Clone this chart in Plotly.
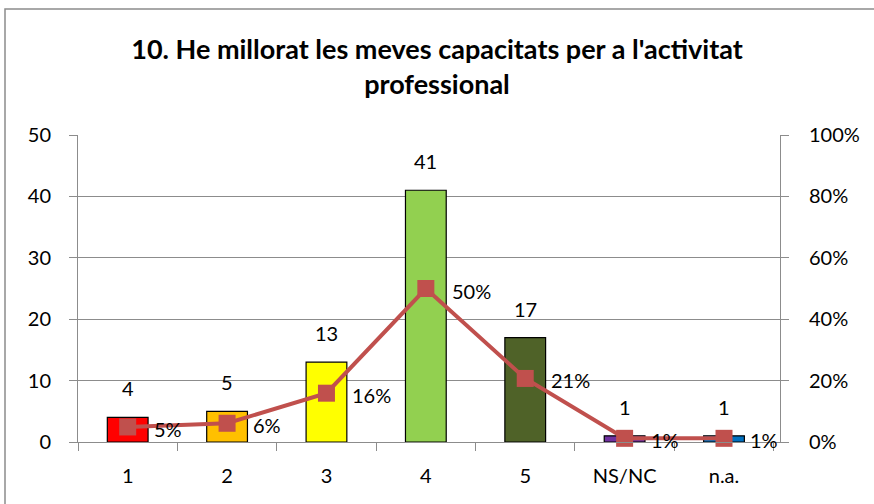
import plotly.graph_objects as go

categories = ["1", "2", "3", "4", "5", "NS/NC", "n.a."]
counts = [4, 5, 13, 41, 17, 1, 1]
percents = [0.049, 0.061, 0.159, 0.500, 0.207, 0.012, 0.012]
percent_labels = ["5%", "6%", "16%", "50%", "21%", "1%", "1%"]
bar_colors = ["#FF0000", "#FFC000", "#FFFF00", "#92D050", "#4F6228", "#7030A0", "#0070C0"]
title_text = "<b>10. He millorat les meves capacitats per a l'activitat<br>professional</b>"

FONT = "Lato, Liberation Sans, sans-serif"
GRID = "#8C8C8C"
FS = 20

W, H = 874, 504
L, T = 78, 135
R = W - 780
B = H - 442
pw, ph = W - L - R, H - T - B

fig = go.Figure()
fig.add_trace(go.Bar(
    x=categories, y=counts,
    marker=dict(color=bar_colors, line=dict(color="black", width=1.2)),
    showlegend=False, yaxis="y", hoverinfo="x+y",
))
fig.add_trace(go.Scatter(
    x=categories, y=percents, yaxis="y2", mode="lines+markers",
    line=dict(color="#C0504D", width=4),
    marker=dict(symbol="square", size=17, color="#C0504D"),
    cliponaxis=False, showlegend=False,
))

for i, v in enumerate(counts):
    fig.add_annotation(x=i, y=v, xref="x", yref="y", text=str(v), showarrow=False,
                       yshift=29, font=dict(size=FS, family=FONT, color="black"))
for i, (p, t) in enumerate(zip(percents, percent_labels)):
    fig.add_annotation(x=i, y=p, xref="x", yref="y2", text=t, showarrow=False,
                       xanchor="left", xshift=24, yshift=-2,
                       font=dict(size=FS, family=FONT, color="black"))

fig.update_layout(
    width=W, height=H,
    margin=dict(l=L, r=R, t=T, b=B, autoexpand=False),
    paper_bgcolor="white", plot_bgcolor="white",
    font=dict(family=FONT, size=FS, color="black"),
    title=dict(text=title_text, x=0.5, xanchor="center",
               y=1 - 59 / H, yanchor="middle",
               font=dict(size=27, family=FONT, color="black")),
    bargap=0.59,
    xaxis=dict(type="category", showgrid=False, tickson="boundaries", ticks="outside",
               ticklen=8, tickcolor=GRID, showline=True, linecolor=GRID, linewidth=1,
               tickfont=dict(size=FS), ticklabelstandoff=16),
    yaxis=dict(range=[0, 50], dtick=10, showgrid=True, gridcolor=GRID, gridwidth=1,
               showline=True, linecolor=GRID, ticks="outside", ticklen=8, tickcolor=GRID,
               tickfont=dict(size=FS), zeroline=False, ticklabelstandoff=14),
    yaxis2=dict(range=[0, 1], dtick=0.2, tickformat=".0%", overlaying="y", side="right",
                showgrid=False, showline=True, linecolor=GRID, ticks="outside", ticklen=8,
                tickcolor=GRID, tickfont=dict(size=FS), zeroline=False, ticklabelstandoff=16),
)

# outer chart border
x0 = (5 - L) / pw
x1 = (W + 20 - L) / pw
y1 = (H - B - 9) / ph
y0 = (H - B - (H + 20)) / ph
fig.add_shape(type="rect", xref="paper", yref="paper", x0=x0, x1=x1, y0=y0, y1=y1,
              line=dict(color="#8C8C8C", width=1.5), fillcolor="rgba(0,0,0,0)", layer="below")

fig.write_html("out.html", config={"displayModeBar": False},
               post_script="document.body.style.margin='0';")
